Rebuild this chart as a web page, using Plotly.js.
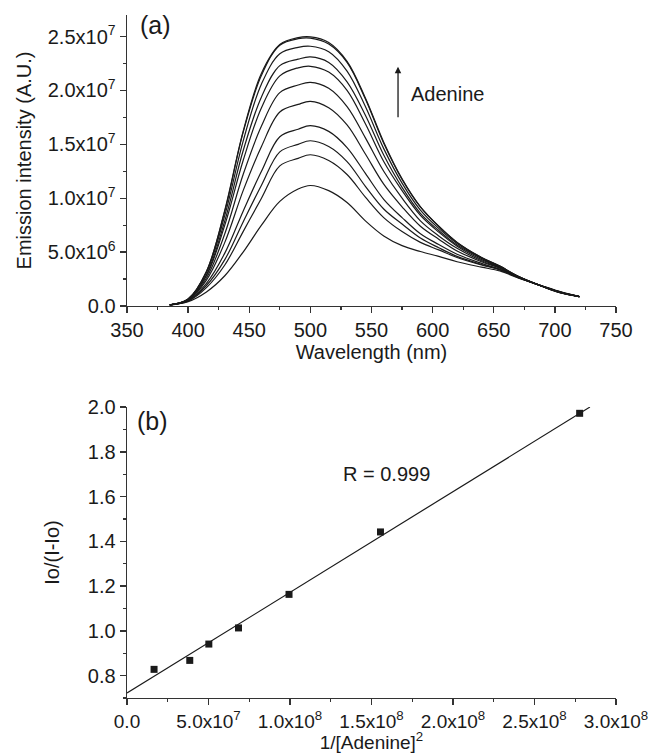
<!DOCTYPE html>
<html>
<head>
<meta charset="utf-8">
<script src="https://cdn.plot.ly/plotly-3.0.1.min.js"></script>
<style>html,body{margin:0;padding:0;background:#fff;}#chart{width:652px;height:753px;}</style>
</head>
<body>
<div id="chart"></div>
<script>
// ---------- Panel (a): emission spectra (intensity in units of 1e6 A.U.) ----------
const wavelength = [385,400,415,430,445,460,475,490,500,515,530,545,560,575,590,605,620,640,655,670,690,705,720];
const spec0  = [0.1,0.40,1.3,2.8,5.0,7.5,9.7,10.85,11.18,10.7,9.6,7.9,6.5,5.6,5.05,4.6,4.1,3.6,3.25,2.6,1.85,1.3,0.87];
const spec1  = [0.1,0.45,1.7,3.8,6.9,10.0,13.0,13.7,14.03,13.5,12.2,10.1,8.2,6.9,5.9,5.2,4.5,3.8,3.35,2.63,1.83,1.28,0.87];
const spec2  = [0.1,0.48,1.9,4.3,7.8,11.2,14.3,15.0,15.33,14.8,13.4,11.1,9.0,7.6,6.3,5.4,4.6,3.85,3.4,2.65,1.83,1.27,0.87];
const spec3  = [0.1,0.50,2.1,4.9,8.8,12.5,15.7,16.4,16.73,16.2,14.7,12.3,9.9,8.2,6.7,5.7,4.8,3.95,3.4,2.66,1.82,1.26,0.87];
const spec4  = [0.1,0.54,2.4,5.9,10.7,14.8,18.0,18.7,18.99,18.4,16.8,14.1,11.3,9.2,7.4,6.2,5.1,4.1,3.5,2.68,1.82,1.26,0.87];
const spec5  = [0.1,0.57,2.6,6.7,12.2,16.7,19.8,20.5,20.75,20.2,18.5,15.6,12.5,10.0,7.9,6.5,5.35,4.2,3.55,2.7,1.82,1.25,0.87];
const spec6  = [0.1,0.60,2.8,7.5,13.5,18.4,21.35,22.1,22.24,21.7,20.0,16.9,13.4,10.7,8.4,6.85,5.55,4.3,3.6,2.72,1.81,1.24,0.87];
const spec7  = [0.1,0.62,2.9,7.9,14.4,19.4,22.3,22.9,23.11,22.6,20.8,17.7,14.0,11.0,8.6,7.0,5.65,4.4,3.6,2.72,1.81,1.23,0.87];
const spec8  = [0.1,0.63,3.1,8.4,15.3,20.6,23.4,24.0,24.1,23.6,21.8,18.5,14.6,11.4,8.9,7.2,5.8,4.45,3.65,2.74,1.8,1.22,0.87];
const spec9  = [0.1,0.65,3.2,8.8,16.1,21.4,24.2,24.8,24.85,24.3,22.6,19.2,15.1,11.75,9.2,7.4,5.9,4.5,3.7,2.75,1.8,1.2,0.87];
const spec10 = [0.1,0.65,3.2,8.9,16.2,21.6,24.26,24.9,24.97,24.45,22.7,19.3,15.2,11.8,9.2,7.4,5.9,4.5,3.7,2.75,1.8,1.2,0.87];
const spectra = [spec0,spec1,spec2,spec3,spec4,spec5,spec6,spec7,spec8,spec9,spec10];
const intensityUnit = 1e6;

const aXTicks = [350,400,450,500,550,600,650,700,750];
const aYTickVals = [0,5e6,1e7,1.5e7,2e7,2.5e7];
const aYTickText = ["0.0","5.0x10<sup>6</sup>","1.0x10<sup>7</sup>","1.5x10<sup>7</sup>","2.0x10<sup>7</sup>","2.5x10<sup>7</sup>"];

// ---------- Panel (b): Benesi-Hildebrand plot ----------
const invAdenineSq = [1.66e7,3.85e7,5.02e7,6.84e7,9.94e7,1.555e8,2.777e8];
const ioRatio      = [0.828,0.868,0.941,1.013,1.163,1.442,1.972];
const fitX = [0, 2.84e8];
const fitY = [0.722, 2.0];
const bXTickVals = [0,5e7,1e8,1.5e8,2e8,2.5e8,3e8];
const bXTickText = ["0.0","5.0x10<sup>7</sup>","1.0x10<sup>8</sup>","1.5x10<sup>8</sup>","2.0x10<sup>8</sup>","2.5x10<sup>8</sup>","3.0x10<sup>8</sup>"];
const bYTickVals = [0.8,1.0,1.2,1.4,1.6,1.8,2.0];
const bYTickText = ["0.8","1.0","1.2","1.4","1.6","1.8","2.0"];

const FONT = "Liberation Sans, Arial, Helvetica, sans-serif";
const INK = "#1a1a1a";

const traces = spectra.map((s, i) => ({
  type: "scatter", mode: "lines",
  x: wavelength, y: s.map(v => v * intensityUnit),
  xaxis: "x", yaxis: "y",
  line: {color: INK, width: 1.2, shape: "spline", smoothing: 1},
  name: "spectrum " + (i + 1), showlegend: false
}));
traces.push({
  type: "scatter", mode: "lines", x: fitX, y: fitY, xaxis: "x2", yaxis: "y2",
  line: {color: INK, width: 1.2}, showlegend: false, name: "fit"
});
traces.push({
  type: "scatter", mode: "markers", x: invAdenineSq, y: ioRatio, xaxis: "x2", yaxis: "y2",
  marker: {symbol: "square", size: 7, color: INK}, showlegend: false, name: "data"
});

const axisBase = {
  showline: true, linecolor: "#333", linewidth: 1.4, mirror: false,
  ticks: "outside", ticklen: 6, tickwidth: 1.4, tickcolor: "#333",
  showgrid: false, zeroline: false, automargin: false,
  tickfont: {family: FONT, size: 20, color: INK}
};

const layout = {
  width: 652, height: 753,
  margin: {l: 127, r: 36, t: 15, b: 55},
  paper_bgcolor: "#fff", plot_bgcolor: "#fff",
  font: {family: FONT, size: 20, color: INK},
  showlegend: false,
  xaxis: Object.assign({}, axisBase, {
    domain: [0, 1], anchor: "y", range: [350, 750],
    tickmode: "array", tickvals: aXTicks, ticktext: aXTicks.map(String),
    minor: {ticks: "outside", ticklen: 3, tickwidth: 1.2, tickcolor: "#333", tickmode: "linear", tick0: 350, dtick: 25},
    title: {text: "Wavelength (nm)", font: {family: FONT, size: 20, color: INK}, standoff: 0}
  }),
  yaxis: Object.assign({}, axisBase, {
    domain: [0.574, 1], anchor: "x", range: [0, 2.7e7],
    tickmode: "array", tickvals: aYTickVals, ticktext: aYTickText,
    minor: {ticks: "outside", ticklen: 3, tickwidth: 1.2, tickcolor: "#333", tickmode: "linear", tick0: 0, dtick: 2.5e6},
    title: {text: "Emission intensity (A.U.)", font: {family: FONT, size: 20, color: INK}, standoff: 10}
  }),
  xaxis2: Object.assign({}, axisBase, {
    domain: [0, 1], anchor: "y2", range: [0, 3e8],
    tickmode: "array", tickvals: bXTickVals, ticktext: bXTickText,
    tickfont: {family: FONT, size: 19, color: INK},
    minor: {ticks: "outside", ticklen: 3, tickwidth: 1.2, tickcolor: "#333", tickmode: "linear", tick0: 0, dtick: 2.5e7},
    title: {text: "1/[Adenine]<sup>2</sup>", font: {family: FONT, size: 19, color: INK}, standoff: 9}
  }),
  yaxis2: Object.assign({}, axisBase, {
    domain: [0, 0.426], anchor: "x2", range: [0.7, 2.0],
    tickmode: "array", tickvals: bYTickVals, ticktext: bYTickText,
    minor: {ticks: "outside", ticklen: 3, tickwidth: 1.2, tickcolor: "#333", tickmode: "linear", tick0: 0.7, dtick: 0.1},
    title: {text: "Io/(I-Io)", font: {family: FONT, size: 20, color: INK}, standoff: 22}
  }),
  annotations: [
    {xref: "x", yref: "y", x: 373, y: 2.61e7, text: "(a)", showarrow: false,
     font: {family: FONT, size: 25, color: INK}},
    {xref: "x", yref: "y", x: 571.7, y: 2.22e7, ax: 0, ay: 52, text: "", showarrow: true,
     arrowhead: 2, arrowsize: 1, arrowwidth: 1.3, arrowcolor: INK, standoff: 0, startstandoff: 0},
    {xref: "x", yref: "y", x: 612.5, y: 1.97e7, text: "Adenine", showarrow: false,
     font: {family: FONT, size: 20, color: INK}},
    {xref: "x2", yref: "y2", x: 1.54e7, y: 1.938, text: "(b)", showarrow: false,
     font: {family: FONT, size: 25, color: INK}},
    {xref: "x2", yref: "y2", x: 1.592e8, y: 1.70, text: "R = 0.999", showarrow: false,
     font: {family: FONT, size: 20, color: INK}}
  ]
};

Plotly.newPlot("chart", traces, layout, {displayModeBar: false, staticPlot: true});
</script>
</body>
</html>
